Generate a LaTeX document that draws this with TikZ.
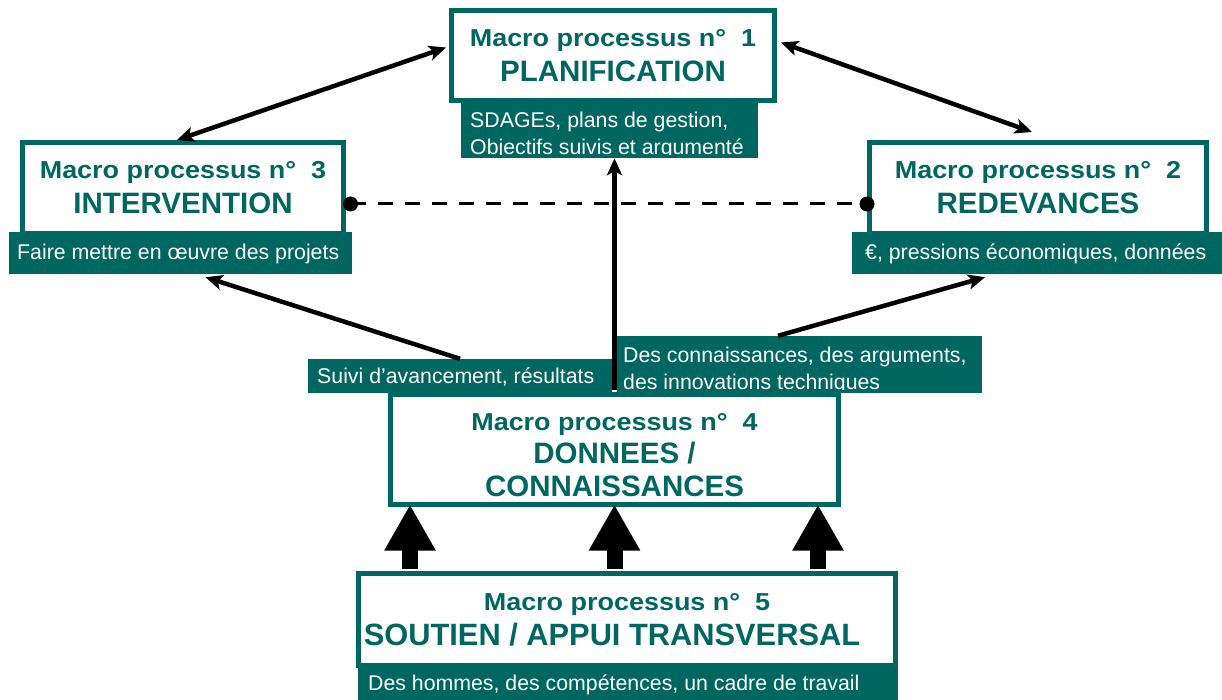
\documentclass[tikz,border=0pt]{standalone}
\usepackage{fontspec}
\setmainfont{Liberation Sans}
\newfontfamily\widesans[FakeStretch=1.1]{Liberation Sans}
\usetikzlibrary{arrows.meta,calc}
\definecolor{mpteal}{RGB}{0,102,96}
% second (large) line of a process title
\newcommand\mptitle[2][29.5]{{\rmfamily\bfseries\fontsize{#1}{35}\selectfont #2}}
\tikzset{headtip/.tip={Stealth[length=17pt,width=15pt,inset=4pt]}}
\begin{document}
\begin{tikzpicture}[x=1pt,y=-1pt,
  mpbox/.style={draw=mpteal, line width=5pt, fill=white, inner sep=0pt,
    align=center, text=mpteal,
    font=\widesans\bfseries\fontsize{24.5}{35}\selectfont},
  tag/.style={fill=mpteal, draw=none, inner sep=0pt},
  tagtext/.style={text=white, inner sep=0pt, anchor=base west,
    font=\rmfamily\fontsize{21.3}{27}\selectfont},
  thinarrow/.style={line width=4.5pt, black},
  blockarrow/.style={line width=16pt, black, -{Triangle[width=48pt,length=46pt]}},
  dotend/.style={black}
]
\useasboundingbox (0,0) rectangle (1222,700);

% process boxes
\node[mpbox, minimum width=323pt, minimum height=90pt] (b1) at (613,55.5)
  {Macro processus n°~~1\\\mptitle{PLANIFICATION}};
\node[mpbox, minimum width=321pt, minimum height=91pt] (b3) at (183,188)
  {Macro processus n°~~3\\\mptitle{INTERVENTION}};
\node[mpbox, minimum width=337pt, minimum height=91pt] (b2) at (1038,188)
  {Macro processus n°~~2\\\mptitle{REDEVANCES}};
\node[mpbox, minimum width=448pt, minimum height=110pt,
  font=\widesans\bfseries\fontsize{24.5}{33}\selectfont] (b4) at (614.5,449.5)
  {\rule{0pt}{29pt}Macro processus n°~~4\\\mptitle{DONNEES /}\\\mptitle{CONNAISSANCES}};
\node[mpbox, minimum width=537pt, minimum height=92pt] (b5) at (627,619.5)
  {Macro processus n°~~5\\\mptitle[30.8]{SOUTIEN / APPUI TRANSVERSAL}\hspace*{30pt}};

% output tags
\node[tag, minimum width=297pt, minimum height=55pt] (lab1) at (609.5,130.5) {};
\node[tag, minimum width=343pt, minimum height=42pt] (lab3) at (180.5,253) {};
\node[tag, minimum width=370pt, minimum height=42pt] (lab2) at (1037,253) {};
\node[tag, minimum width=304pt, minimum height=34pt] (labS) at (460,376) {};
\node[tag, minimum width=365pt, minimum height=57pt] (labD) at (799.5,364.5) {};
\node[tag, minimum width=540pt, minimum height=34pt] (lab5) at (628,683) {};

\node[tagtext] (t1a) at (470,128) {SDAGEs, plans de gestion,};
\begin{scope}
  \clip (lab1.north west) rectangle ($(lab1.south east)+(0,-4)$);
  \node[tagtext] (t1b) at (470,155) {Objectifs suivis et argumenté};
\end{scope}
\node[tagtext] (t3) at (17,260) {Faire mettre en œuvre des projets};
\node[tagtext] (t2) at (865,260) {€, pressions économiques, données};
\node[tagtext] (tS) at (317,383) {Suivi d’avancement, résultats};
\node[tagtext] (tDa) at (623,362) {Des connaissances, des arguments,};
\begin{scope}
  \clip (labD.north west) rectangle ($(labD.south east)+(0,-4)$);
  \node[tagtext] (tDb) at (623,389) {des innovations techniques};
\end{scope}
\node[tagtext] (t5) at (368,690) {Des hommes, des compétences, un cadre de travail};

% exchanges between processes
\draw[thinarrow, headtip-headtip] ($(b1.west)+(-3,-8)$) -- ($(b3.north)+(-6,0)$);
\draw[thinarrow, headtip-headtip] ($(b1.east)+(4,-13)$) -- ($(b2.north)+(-6,-8)$);

\coordinate (d1) at ($(b3.east)+(4.5,16)$);
\coordinate (d2) at ($(b2.west)+(0,16)$);
\draw[line width=3pt, dash pattern=on 15pt off 12pt] (d1) -- (d2);
\fill[dotend] (d1) circle (7.5pt);
\fill[dotend] (d2) circle (7.5pt);

\draw[thinarrow, -headtip] (labS.north) -- ($(lab3.south)+(25,3)$);
\draw[thinarrow, -headtip] ($(labD.north)+(-21.5,0)$) -- ($(lab2.south)+(-52,3)$);
\draw[thinarrow, -headtip] ($(b4.north)+(0,-2.5)$) -- (b4.north |- lab1.south);

% support flows from process 5 to process 4
\coordinate (up1) at (410,0);
\coordinate (up2) at (614.5,0);
\coordinate (up3) at (818,0);
\foreach \k in {1,2,3}{
  \draw[blockarrow, shorten <=2.5pt, shorten >=-2.5pt]
    (b5.north -| up\k) -- (b4.south -| up\k);
}
\end{tikzpicture}
\end{document}
